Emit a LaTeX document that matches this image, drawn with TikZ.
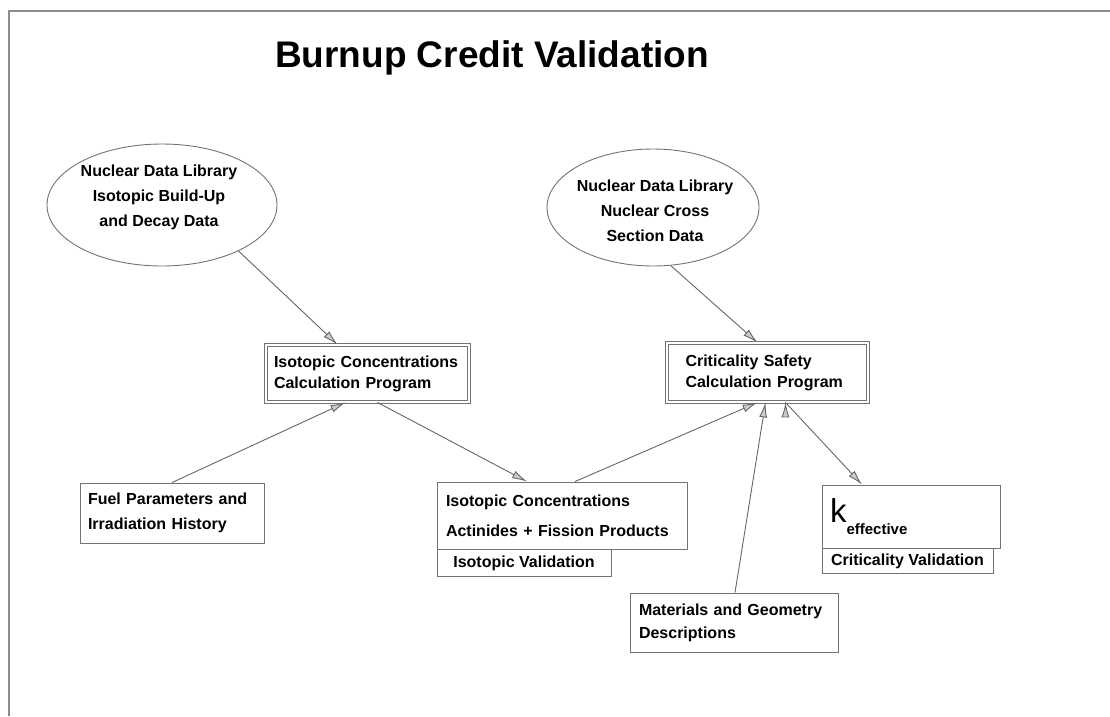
\documentclass[tikz,border=0pt]{standalone}
\usepackage{fontspec}
\setmainfont{Liberation Sans}
\usetikzlibrary{shapes.geometric, arrows.meta}

\newcommand{\lblfont}{\fontsize{16}{25}\selectfont\bfseries}

\begin{document}
\begin{tikzpicture}[x=1pt, y=-1pt, >={Latex[open,length=15pt,width=8pt,fill=black!20]},
                    line width=0.9pt,
                    lib/.style={ellipse, draw=black!55, inner sep=0pt},
                    libtext/.style={align=center, font=\lblfont},
                    prog/.style={draw=black!55, double, double distance=2.2pt, inner sep=6pt, align=left, font=\lblfont},
                    box/.style={draw=black!55, inner sep=8pt, align=left, font=\lblfont},
                    flow/.style={->, draw=black!60}]

    \useasboundingbox (0,0) rectangle (1110,716);
    \draw[black!45, line width=1.6pt] (9,716) -- (9,11) -- (1110,11);

    \node[font=\fontsize{37}{37}\selectfont\bfseries] (title) at (492,58) {Burnup Credit Validation};

    % data libraries
    \node[lib, minimum width=230, minimum height=122] (ndl1) at (162,205) {};
    \node[libtext] (ndl1txt) at (159,197) {Nuclear Data Library\\Isotopic Build-Up\\and Decay Data};
    \node[lib, minimum width=212, minimum height=117] (ndl2) at (653,207.5) {};
    \node[libtext] (ndl2txt) at (655,211) {Nuclear Data Library\\Nuclear Cross\\Section Data};

    % programs
    \node[prog, minimum width=203, minimum height=57, text width=187,
          font=\fontsize{16}{21}\selectfont\bfseries] (isocalc) at (367.5,373.5)
        {Isotopic Concentrations\\Calculation Program};
    \node[prog, minimum width=201, minimum height=59, text width=164,
          font=\fontsize{16}{21}\selectfont\bfseries] (critcalc) at (767.5,372.5)
        {Criticality Safety\\Calculation Program};

    % inputs and results
    \node[box, minimum width=184, minimum height=60, text width=168] (fuel) at (172,513)
        {Fuel Parameters and\\Irradiation History};
    \node[box, minimum width=250, minimum height=67, text width=232,
          font=\fontsize{16}{30}\selectfont\bfseries] (isoconc) at (562,515.5)
        {Isotopic Concentrations\\Actinides + Fission Products};
    \node[box, anchor=north west, minimum width=174, minimum height=27, inner sep=3pt,
          align=center] (isoval) at (isoconc.south west) {Isotopic Validation};

    \node[box, minimum width=178, minimum height=63, text width=162] (keff) at (911,516.5)
        {{\fontsize{33}{33}\selectfont\mdseries k}\raisebox{-12pt}{\fontsize{15}{15}\selectfont effective}};
    \node[box, anchor=north west, minimum width=171, minimum height=25, inner sep=3pt,
          align=center] (critval) at (keff.south west) {Criticality Validation};

    \node[box, minimum width=208, minimum height=59, text width=190,
          font=\fontsize{16}{23}\selectfont\bfseries] (mat) at (734,622.5)
        {Materials and Geometry\\Descriptions};

    \path[flow]
    (ndl1.-31) edge ([xshift=-30pt]isocalc.north)
    (fuel.north) edge ([xshift=-22pt]isocalc.south)
    ([xshift=10pt]isocalc.south) edge ([xshift=-35pt]isoconc.north)
    ([xshift=13pt]isoconc.north) edge ([xshift=-10pt]critcalc.south)
    ([xshift=1pt]mat.north) edge ([xshift=-2pt]critcalc.south)
    (ndl2.-73) edge ([xshift=-10pt]critcalc.north)
    ([xshift=18pt]critcalc.south) edge ([xshift=-49pt]keff.north);
\end{tikzpicture}
\end{document}
